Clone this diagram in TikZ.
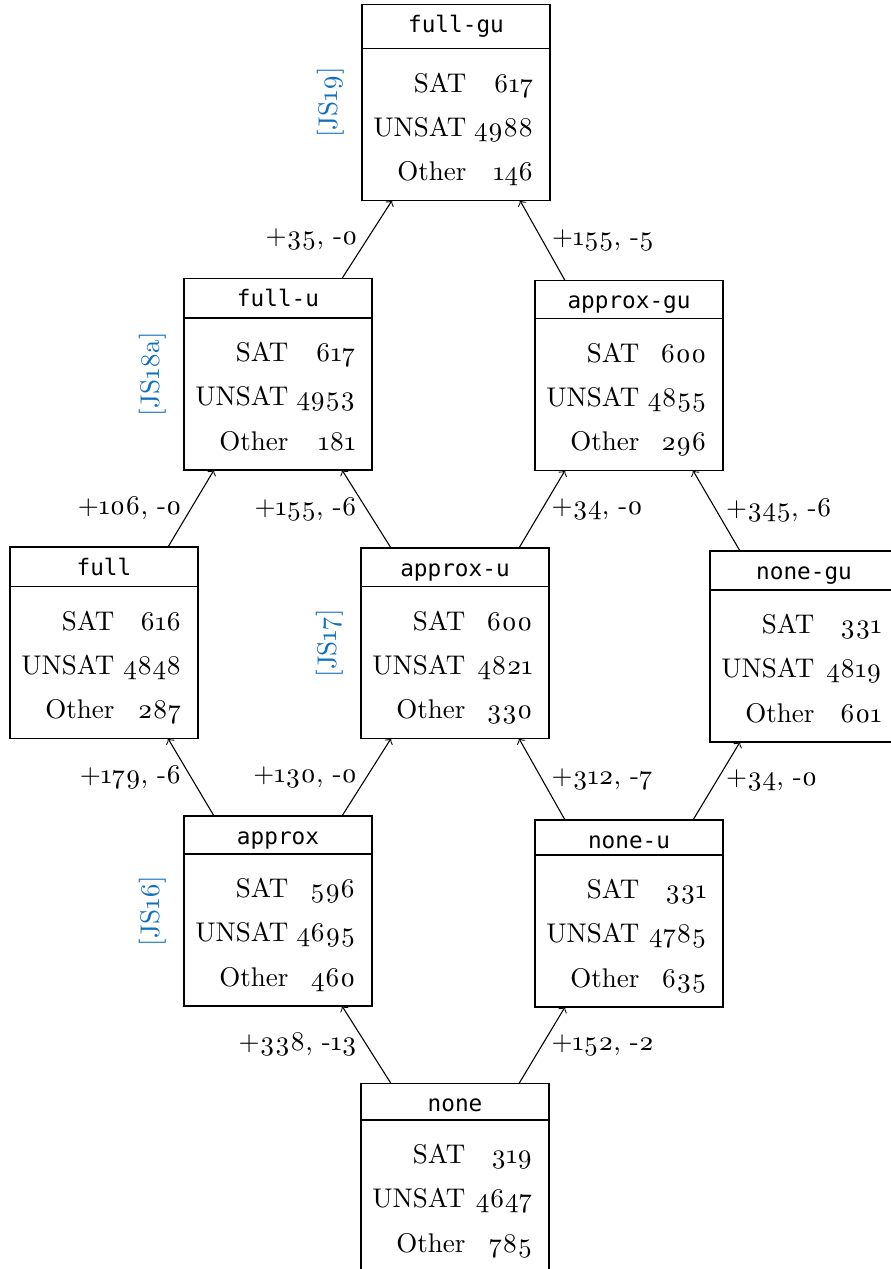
\documentclass[tikz,border=0pt]{standalone}
\usepackage{fontspec}
\setmainfont{lmroman10-regular}[Extension=.otf, Numbers=OldStyle]
\newfontfamily\titlefont{DejaVu Sans Mono}
\usetikzlibrary{calc}
\definecolor{citeblue}{RGB}{16,112,190}

\tikzset{
  statframe/.style={draw, line width=0.45pt, anchor=north west, inner sep=0pt,
    outer sep=0pt, minimum width=188*0.37pt},
  titletext/.style={anchor=base, inner sep=0pt, font=\titlefont\fontsize{8.4}{10}\selectfont},
  cell/.style={anchor=base east, inner sep=0pt, font=\fontsize{10}{12}\selectfont},
  cite/.style={rotate=90, anchor=south, inner sep=0pt, text=citeblue,
    font=\fontsize{10}{12}\selectfont},
  gain/.style={font=\fontsize{10}{12}\selectfont},
  arr/.style={->, line width=0.4pt},
}

% #1 name, #2 left, #3 top, #4 y of the title rule, #5 title,
% #6 SAT, #7 UNSAT, #8 Other
\newcommand\statbox[8]{%
  \node[statframe, minimum height={(#4+152-(#3))*0.37pt}] (#1) at (#2,#3) {};
  \draw[line width=0.45pt] ($(#1.north west)+(0,{#4-(#3)})$) -- ($(#1.north east)+(0,{#4-(#3)})$);
  \node[titletext] (#1-title) at ($(#1.north)+(0,28)$) {#5};
  \node[cell] (#1-satl)   at ($(#1.north east)+(-83,{#4-(#3)+43.5})$) {SAT};
  \node[cell] (#1-satn)   at ($(#1.north east)+(-16,{#4-(#3)+43.5})$) {#6};
  \node[cell] (#1-unsatl) at ($(#1.north east)+(-83,{#4-(#3)+87.5})$) {UNSAT};
  \node[cell] (#1-unsatn) at ($(#1.north east)+(-16,{#4-(#3)+87.5})$) {#7};
  \node[cell] (#1-otherl) at ($(#1.north east)+(-83,{#4-(#3)+132})$) {Other};
  \node[cell] (#1-othern) at ($(#1.north east)+(-16,{#4-(#3)+132})$) {#8};
  \coordinate (#1-nw) at ($(#1.north west)+(30,0)$);
  \coordinate (#1-ne) at ($(#1.north east)+(-30,0)$);
  \coordinate (#1-sw) at ($(#1.south west)+(30,0)$);
  \coordinate (#1-se) at ($(#1.south east)+(-30,0)$);
}

\begin{document}
\begin{tikzpicture}[x=0.37pt, y=-0.37pt]
  \path[use as bounding box, clip] (0,0) rectangle (891,1269);

  \statbox{fullgu}{362}{4.5}{48.5}{full-gu}{617}{4988}{146}
  \statbox{fullu}{184}{278.5}{318}{full-u}{617}{4953}{181}
  \statbox{approxgu}{535}{280.5}{318.5}{approx-gu}{600}{4855}{296}
  \statbox{full}{10}{547}{586.5}{full}{616}{4848}{287}
  \statbox{approxu}{361}{548}{586.5}{approx-u}{600}{4821}{330}
  \statbox{nonegu}{710}{551}{590}{none-gu}{331}{4819}{601}
  \statbox{approx}{184}{816}{854}{approx}{596}{4695}{460}
  \statbox{noneu}{535}{820}{855}{none-u}{331}{4785}{635}
  \statbox{none}{361}{1083.5}{1120}{none}{319}{4647}{785}

  % citations beside the boxes
  \node[cite] (cite-fullgu)  at ($(fullgu.west)+(-17,0)$)  {[JS19]};
  \node[cite] (cite-fullu)   at ($(fullu.west)+(-17,0)$)   {[JS18a]};
  \node[cite] (cite-approxu) at ($(approxu.west)+(-17,0)$) {[JS17]};
  \node[cite] (cite-approx)  at ($(approx.west)+(-17,0)$)  {[JS16]};

  % refinement edges with gains and losses
  \draw[arr] (fullu-ne)    -- node[gain, left]  {+35, -0}   (fullgu-sw);
  \draw[arr] (approxgu-nw) -- node[gain, right] {+155, -5}  (fullgu-se);
  \draw[arr] (full-ne)     -- node[gain, left]  {+106, -0}  (fullu-sw);
  \draw[arr] (approxu-nw)  -- node[gain, left]  {+155, -6}  (fullu-se);
  \draw[arr] (approxu-ne)  -- node[gain, right] {+34, -0}   (approxgu-sw);
  \draw[arr] (nonegu-nw)   -- node[gain, right] {+345, -6}  (approxgu-se);
  \draw[arr] (approx-nw)   -- node[gain, left]  {+179, -6}  (full-se);
  \draw[arr] (approx-ne)   -- node[gain, left]  {+130, -0}  (approxu-sw);
  \draw[arr] (noneu-nw)    -- node[gain, right] {+312, -7}  (approxu-se);
  \draw[arr] (noneu-ne)    -- node[gain, right] {+34, -0}   (nonegu-sw);
  \draw[arr] (none-nw)     -- node[gain, left]  {+338, -13} (approx-se);
  \draw[arr] (none-ne)     -- node[gain, right] {+152, -2}  (noneu-sw);
\end{tikzpicture}
\end{document}
